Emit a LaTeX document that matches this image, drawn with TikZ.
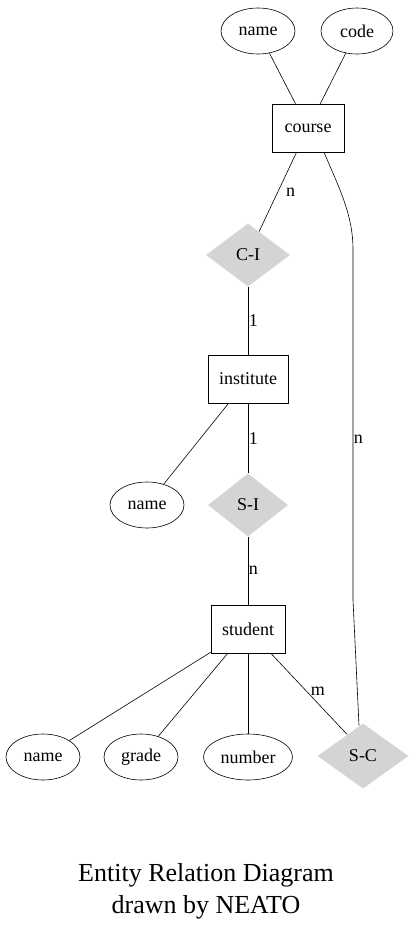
\documentclass[tikz,border=0pt]{standalone}
\usepackage{fontspec}
\setmainfont{Liberation Serif}
\usetikzlibrary{shapes.geometric}
\begin{document}
\begin{tikzpicture}[x=1pt,y=-1pt,
  every node/.style={font=\fontsize{18}{20}\selectfont},
  attr/.style={draw, ellipse, line width=0.6pt, minimum width=74pt, minimum height=46pt, inner sep=0pt},
  ent/.style={draw, rectangle, line width=0.6pt, minimum height=48pt, inner sep=0pt},
  rel/.style={diamond, fill=black!17, minimum width=84pt, minimum height=63pt, inner sep=0pt},
  conn/.style={line width=0.6pt},
  card/.style={inner sep=0.5pt}]
\useasboundingbox (0,0) rectangle (413,930);
% nodes
\node[attr] (cname) at (258,31) {name};
\node[attr, minimum width=72pt] (code) at (357,31) {code};
\node[ent, minimum width=72pt] (course) at (308,128) {course};
\node[rel] (ci) at (248,255) {C-I};
\node[ent, minimum width=80pt] (inst) at (248,379) {institute};
\node[attr] (iname) at (147,505) {name};
\node[rel, minimum width=80pt] (si) at (248,505) {S-I};
\node[ent, minimum width=74pt] (student) at (248,629) {student};
\node[attr] (sname) at (43,757) {name};
\node[attr] (grade) at (141,757) {grade};
\node[attr, minimum width=89pt] (number) at (248,757) {number};
\node[rel, minimum width=91pt, minimum height=65pt] (sc) at (363,756) {S-C};
% title
\node[font=\fontsize{26}{32}\selectfont, align=center] (title) at (206,891) {Entity Relation Diagram\\drawn by NEATO};
% edges
\draw[conn] (cname) -- (course);
\draw[conn] (code) -- (course);
\draw[conn] (course) -- node[pos=0.5, right, inner sep=8pt] {n} (ci);
\draw[conn] (ci) -- node[pos=0.5, anchor=west, card] {1} (inst);
\draw[conn] (inst) -- (iname);
\draw[conn] (inst) -- node[pos=0.5, anchor=west, card] {1} (si);
\draw[conn] (si) -- node[pos=0.5, anchor=west, card] {n} (student);
\draw[conn] (student) -- (sname);
\draw[conn] (student) -- (grade);
\draw[conn] (student) -- (number);
\draw[conn] (student) -- node[pos=0.47, right, inner sep=4pt] {m} ([xshift=-16pt,yshift=-11pt]sc.north);
\draw[conn] ([xshift=16pt]course.south) .. controls (340,190) and (353,215) .. (353,250)
  -- node[pos=0.54, anchor=west, card] {n} (353,600)
  -- ([xshift=-4pt,yshift=-2pt]sc.north);
\end{tikzpicture}
\end{document}
